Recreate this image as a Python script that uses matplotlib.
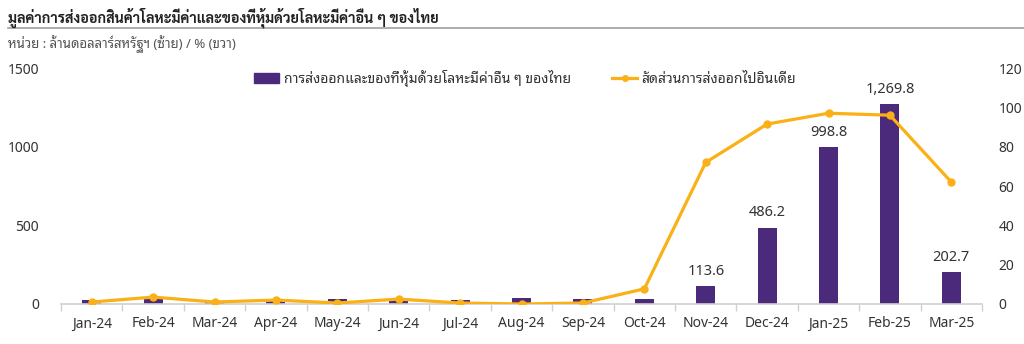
import matplotlib
matplotlib.use("Agg")
import matplotlib.pyplot as plt
import numpy as np
from matplotlib.lines import Line2D
from matplotlib.patches import Patch

plt.rcParams["font.family"] = ["Noto Sans", "Noto Sans Thai Looped", "DejaVu Sans"]

months = ["Jan-24", "Feb-24", "Mar-24", "Apr-24", "May-24", "Jun-24", "Jul-24",
          "Aug-24", "Sep-24", "Oct-24", "Nov-24", "Dec-24", "Jan-25", "Feb-25", "Mar-25"]
export_value = [25, 30, 15, 20, 30, 25, 25, 40, 30, 30, 113.6, 486.2, 998.8, 1269.8, 202.7]
india_share = [1.0, 3.5, 1.0, 2.0, 0.5, 2.5, 0.5, 0.0, 0.5, 7.7, 72.0, 91.5, 97.0, 96.0, 62.0]
labeled = [10, 11, 12, 13, 14]

title = "มูลค่าการส่งออกสินค้าโลหะมีค่าและของที่หุ้มด้วยโลหะมีค่าอื่น ๆ ของไทย"
subtitle = "หน่วย : ล้านดอลลาร์สหรัฐฯ (ซ้าย) / % (ขวา)"
bar_name = "การส่งออกและของที่หุ้มด้วยโลหะมีค่าอื่น ๆ ของไทย"
line_name = "สัดส่วนการส่งออกไปอินเดีย"

purple = "#4b2a7b"
orange = "#fbb016"
axis_gray = "#d0d0d0"
text_col = "#333333"

fig = plt.figure(figsize=(10.24, 3.44), dpi=100)
ax = fig.add_axes([0.0596, 0.1163, 0.8994, 0.686])
ax2 = ax.twinx()

x = np.arange(len(months))
ax.bar(x, export_value, width=0.31, color=purple, zorder=2)
for i in labeled:
    v = export_value[i]
    ax.text(x[i], v + 45, f"{v:,.1f}", ha="center", va="bottom", fontsize=10.5, color=text_col)

ax2.plot(x, india_share, color=orange, lw=2.3, marker="o", ms=5, zorder=3)

ax.set_xlim(-0.5, len(months) - 0.5)
ax.set_ylim(0, 1500)
ax.set_yticks([0, 500, 1000, 1500])
ax2.set_ylim(0, 120)
ax2.set_yticks(range(0, 121, 20))

ax.set_xticks(x)
ax.set_xticklabels(months)
ax.set_xticks(np.arange(-0.5, len(months)), minor=True)
ax.tick_params(axis="x", which="major", length=0, pad=9, labelsize=10, labelcolor=text_col)
ax.tick_params(axis="x", which="minor", length=5, color=axis_gray, width=1)
ax.tick_params(axis="y", length=0, pad=16, labelsize=10, labelcolor=text_col)
ax2.tick_params(axis="y", length=0, pad=12, labelsize=10, labelcolor=text_col)

for a in (ax, ax2):
    for side in ("top", "left", "right", "bottom"):
        a.spines[side].set_visible(False)
ax.spines["bottom"].set_visible(True)
ax.spines["bottom"].set_color(axis_gray)
ax.spines["bottom"].set_linewidth(1.2)

handles = [Patch(color=purple), Line2D([0], [0], color=orange, lw=2.3, marker="o", ms=4)]
fig.legend(handles, [bar_name, line_name], loc="center", bbox_to_anchor=(0.513, 0.773),
           ncol=2, frameon=False, fontsize=10, handlelength=1.8, handletextpad=0.3,
           columnspacing=3.0, labelcolor=text_col)

fig.text(0.008, 0.947, title, fontsize=10.3, fontweight="bold", color="#222222", va="center",
         family=["Sarabun", "Noto Sans"])
fig.add_artist(Line2D([0.008, 1.0], [0.918, 0.918], color="#a0a0a0", lw=1.2))
fig.text(0.008, 0.872, subtitle, fontsize=9.5, color="#555555", va="center")

fig.savefig("out.png", dpi=100)
